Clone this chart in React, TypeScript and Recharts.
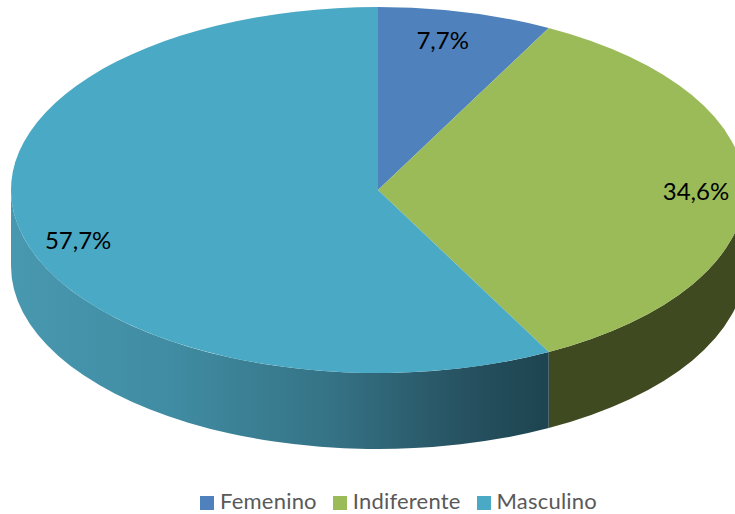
import { PieChart, Pie, Legend } from "recharts";

const categories = ["Femenino", "Indiferente", "Masculino"];
const shares = [7.7, 34.6, 57.7];
const topColors = ["#4f81bc", "#9bbb59", "#4aa9c4"];
const wallColors = ["#2f4d71", "#3f4a21", "url(#wallMasculino)"];

const CX = 378;
const CY = 190;
const RX = 367;
const RY = 183;
const DEPTH = 76;
// tweak of each label off the spot computed from its mid angle
const labelNudge = [
  [-10, 1],
  [6, 0],
  [3, 12],
];

const topRows = categories.map((name, i) => ({ name, value: shares[i], fill: topColors[i] }));
const wallRows = categories.map((name, i) => ({ name, value: shares[i], fill: wallColors[i] }));

const onRim = (deg: number, dy = 0) => {
  const rad = (deg * Math.PI) / 180;
  return `${CX + RX * Math.cos(rad)} ${CY + dy - RY * Math.sin(rad)}`;
};

const TopSlice = ({ startAngle, endAngle, fill }: any) => {
  const large = Math.abs(endAngle - startAngle) > 180 ? 1 : 0;
  const d = `M ${CX} ${CY} L ${onRim(startAngle)} A ${RX} ${RY} 0 ${large} 1 ${onRim(endAngle)} Z`;
  return <path d={d} fill={fill} />;
};

// only the front half of the rim (0 to -180 degrees) shows a wall
const WallSlice = ({ startAngle, endAngle, fill }: any) => {
  const from = Math.min(startAngle, 0);
  const to = Math.max(endAngle, -180);
  if (from <= to) return null;
  const d =
    `M ${onRim(from)} A ${RX} ${RY} 0 0 1 ${onRim(to)} ` +
    `L ${onRim(to, DEPTH)} A ${RX} ${RY} 0 0 0 ${onRim(from, DEPTH)} Z`;
  return <path d={d} fill={fill} />;
};

const SliceLabel = ({ midAngle, index, value }: any) => {
  const rad = (midAngle * Math.PI) / 180;
  const x = CX + RX * 0.85 * Math.cos(rad) + labelNudge[index][0];
  const y = CY - RY * 0.85 * Math.sin(rad) + labelNudge[index][1];
  return (
    <text x={x} y={y} textAnchor="middle" dominantBaseline="central" fill="#000" fontSize={24} fontFamily="Lato">
      {`${value.toFixed(1).replace(".", ",")}%`}
    </text>
  );
};

export default function App() {
  return (
    <div style={{ position: "absolute", left: 0, top: 0, fontFamily: "Lato" }}>
      <PieChart width={735} height={514} margin={{ top: 0, right: 0, bottom: 0, left: 0 }}>
        <defs>
          <linearGradient id="wallMasculino" gradientUnits="userSpaceOnUse" x1={11} y1={0} x2={548} y2={0}>
            <stop offset="0%" stopColor="#4898b0" />
            <stop offset="30%" stopColor="#408ca2" />
            <stop offset="60%" stopColor="#357285" />
            <stop offset="85%" stopColor="#265160" />
            <stop offset="100%" stopColor="#1d4450" />
          </linearGradient>
        </defs>
        <Pie
          data={wallRows}
          dataKey="value"
          nameKey="name"
          cx={CX}
          cy={CY}
          outerRadius={RX}
          startAngle={90}
          endAngle={-270}
          stroke="none"
          legendType="none"
          shape={WallSlice}
          isAnimationActive={false}
        />
        <Pie
          data={topRows}
          dataKey="value"
          nameKey="name"
          cx={CX}
          cy={CY}
          outerRadius={RX}
          startAngle={90}
          endAngle={-270}
          stroke="none"
          shape={TopSlice}
          label={SliceLabel}
          labelLine={false}
          isAnimationActive={false}
        />
        <Legend
          layout="horizontal"
          align="center"
          verticalAlign="bottom"
          iconType="square"
          iconSize={14}
          wrapperStyle={{ bottom: 0, left: 39, fontSize: 22 }}
          formatter={(name: string) => (
            <span style={{ color: "#595959", marginLeft: 2, marginRight: 6, letterSpacing: 0.2 }}>{name}</span>
          )}
        />
      </PieChart>
    </div>
  );
}
